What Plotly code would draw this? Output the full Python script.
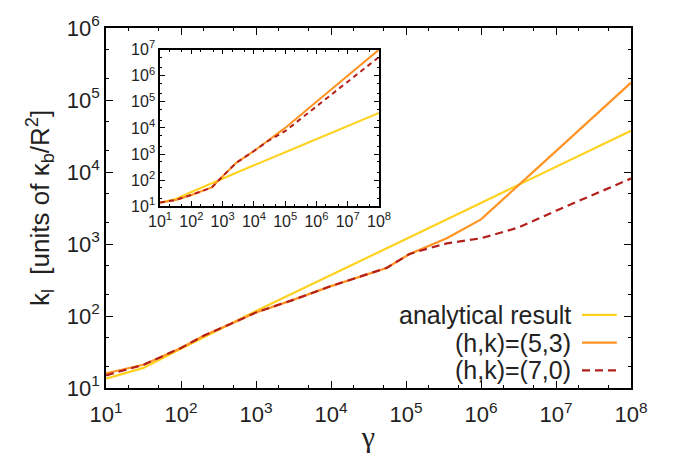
import plotly.graph_objects as go

# ---------------- data ----------------
gamma_analytic = [10, 31.6, 100, 316, 1e3, 1e4, 1e5, 1e6, 1e7, 1e8]
k_analytic = [13.5, 19, 35, 64, 117, 370, 1170, 3800, 11700, 37500]

gamma_53 = [10, 31.6, 100, 200, 450, 1e3, 3e3, 1e4, 5.5e4, 1.1e5, 3.5e5, 1e6, 1e7, 1e8]
k_53 = [16, 21, 36, 53, 77, 112, 165, 260, 465, 720, 1200, 2200, 19500, 174000]

gamma_70 = [10, 31.6, 100, 200, 450, 1e3, 3e3, 1e4, 5.5e4, 1.1e5, 1.5e5, 3.5e5, 1e6, 3.2e6, 1e7, 1e8]
k_70 = [15, 21, 36, 53, 77, 112, 165, 260, 465, 720, 800, 1020, 1200, 1700, 2900, 8100]

# inset
gamma_inset = [10, 30, 100, 250, 450, 1e3, 2.8e3, 1e4, 3e4, 1e5, 1e6, 1e7, 1e8]
k_inset_53 = [14, 17, 27, 40, 52, 140, 470, 1300, 3400, 1.0e4, 1.0e5, 1.0e6, 1.0e7]
k_inset_70 = [14, 17, 27, 40, 52, 140, 470, 1300, 3300, 7500, 6.9e4, 5.9e5, 5.2e6]

x_tick_vals = [1e1, 1e2, 1e3, 1e4, 1e5, 1e6, 1e7, 1e8]
x_tick_text = ["10<sup>1</sup>", "10<sup>2</sup>", "10<sup>3</sup>", "10<sup>4</sup>",
               "10<sup>5</sup>", "10<sup>6</sup>", "10<sup>7</sup>", "10<sup>8</sup>"]
y_tick_vals = [1e1, 1e2, 1e3, 1e4, 1e5, 1e6]
y_tick_text = ["10<sup>1</sup>", "10<sup>2</sup>", "10<sup>3</sup>", "10<sup>4</sup>",
               "10<sup>5</sup>", "10<sup>6</sup>"]
y2_tick_vals = [1e1, 1e2, 1e3, 1e4, 1e5, 1e6, 1e7]
y2_tick_text = y_tick_text + ["10<sup>7</sup>"]
x_minor_vals = [2e1, 5e1, 2e2, 5e2, 2e3, 5e3, 2e4, 5e4, 2e5, 5e5, 2e6, 5e6, 2e7, 5e7]
y_minor_vals = [2e1, 5e1, 2e2, 5e2, 2e3, 5e3, 2e4, 5e4, 2e5, 5e5]
y2_minor_vals = y_minor_vals + [2e6, 5e6]

series_names = ["analytical result", "(h,k)=(5,3)", "(h,k)=(7,0)"]
colors = ["#FFD21F", "#FF9424", "#B3201B"]
dashes = ["solid", "solid", "8px,5px"]

FONT = "Liberation Sans, Arial, Helvetica, sans-serif"
SERIF = "Liberation Serif, Times New Roman, serif"

fig = go.Figure()

main_sets = [(gamma_analytic, k_analytic), (gamma_53, k_53), (gamma_70, k_70)]
for (g, k), name, c, d in zip(main_sets, series_names, colors, dashes):
    fig.add_trace(go.Scatter(x=g, y=k, mode="lines", name=name,
                             line=dict(color=c, width=2.2, dash=d),
                             xaxis="x", yaxis="y", showlegend=False))

inset_sets = [(gamma_analytic, k_analytic), (gamma_inset, k_inset_53), (gamma_inset, k_inset_70)]
for (g, k), name, c, d in zip(inset_sets, series_names, colors, dashes):
    fig.add_trace(go.Scatter(x=g, y=k, mode="lines", name=name,
                             line=dict(color=c, width=2, dash=("5px,4px" if d != "solid" else d)),
                             xaxis="x2", yaxis="y2", showlegend=False))

axis_common = dict(type="log", tickmode="array", showgrid=False, tickangle=0,
                   zeroline=False, showline=True, linecolor="black", linewidth=1.5,
                   mirror="allticks", ticks="inside", tickcolor="black")

fig.update_layout(
    width=675, height=462,
    margin=dict(l=106, r=44, t=24, b=74),
    paper_bgcolor="white", plot_bgcolor="white",
    font=dict(family=FONT, color="#222222"),
    xaxis=dict(**axis_common, range=[1, 8], domain=[0, 1], ticklen=7, tickwidth=1,
               tickvals=x_tick_vals, ticktext=x_tick_text, ticklabelstandoff=6,
               minor=dict(ticks="inside", ticklen=3, tickvals=x_minor_vals, tickcolor="black"),
               tickfont=dict(size=22),
               title=dict(text="γ", font=dict(size=30, family=SERIF), standoff=0)),
    yaxis=dict(**axis_common, range=[1, 6], domain=[0, 1], ticklen=7, tickwidth=1,
               tickvals=y_tick_vals, ticktext=y_tick_text,
               minor=dict(ticks="inside", ticklen=3, tickvals=y_minor_vals, tickcolor="black"),
               tickfont=dict(size=22),
               title=dict(text="k<sub>l</sub>  [units of κ<sub>b</sub>/R<sup>2</sup>]",
                          font=dict(size=26), standoff=10)),
    xaxis2=dict(**axis_common, range=[1, 8], domain=[0.103, 0.52], anchor="y2",
                ticklen=5, tickwidth=1, tickvals=x_tick_vals, ticktext=x_tick_text,
                minor=dict(ticks="inside", ticklen=2.5, tickvals=x_minor_vals, tickcolor="black"),
                tickfont=dict(size=16)),
    yaxis2=dict(**axis_common, range=[1, 7], domain=[0.505, 0.94], anchor="x2",
                ticklen=5, tickwidth=1, tickvals=y2_tick_vals, ticktext=y2_tick_text,
                minor=dict(ticks="inside", ticklen=2.5, tickvals=y2_minor_vals, tickcolor="black"),
                tickfont=dict(size=16)),
)

# legend drawn as right-aligned text with line sample on the right
leg_y = [0.203, 0.126, 0.049]
for name, c, d, yy in zip(series_names, colors, dashes, leg_y):
    fig.add_annotation(x=0.8895, y=yy, xref="paper", yref="paper", text=name,
                       showarrow=False, xanchor="right", yanchor="middle",
                       font=dict(size=25, family=FONT, color="#222222"))
    fig.add_shape(type="line", xref="paper", yref="paper", x0=0.9067, x1=0.973,
                  y0=yy, y1=yy, line=dict(color=c, width=2.2, dash=d))

fig.write_html("out.html")
